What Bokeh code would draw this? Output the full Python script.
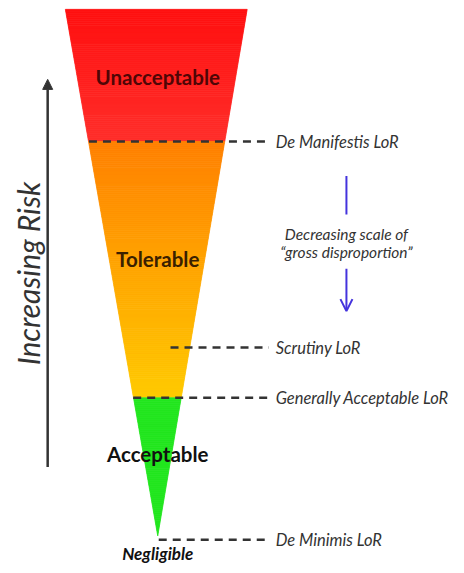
import numpy as np
from bokeh.plotting import figure
from bokeh.models import Range1d, Arrow, NormalHead, OpenHead
from bokeh.core.properties import value
from bokeh.embed import file_html
from bokeh.resources import INLINE

# ---- data ----
zone_names = ["Unacceptable", "Tolerable", "Acceptable", "Negligible"]
zone_label_y = [78, 262, 460, 561]
lor_names = ["De Manifestis LoR", "Scrutiny LoR", "Generally Acceptable LoR", "De Minimis LoR"]
lor_y = [143, 352, 403, 547]
lor_start_x = [90, 173, 135, 161]
note_lines = ["Decreasing scale of", "\u201cgross disproportion\u201d"]
note_y = [237, 255]

# ---- geometry / style ----
TOP_Y, APEX_Y = 9, 543
TOP_L, TOP_R, APEX_X = 66, 251, 160

def edges(y):
    t = (y - TOP_Y) / (APEX_Y - TOP_Y)
    return TOP_L + (APEX_X - TOP_L) * t, TOP_R + (APEX_X - TOP_R) * t

def hex2rgb(h):
    h = h.lstrip("#")
    return np.array([int(h[i:i + 2], 16) for i in (0, 2, 4)], dtype=float)

def lerp(c1, c2, t):
    c = hex2rgb(c1) * (1 - t) + hex2rgb(c2) * t
    return "#%02x%02x%02x" % tuple(int(round(v)) for v in c)

p = figure(width=456, height=565, x_range=Range1d(0, 464), y_range=Range1d(573, 0),
           output_backend="svg", toolbar_location=None, min_border=0)
p.axis.visible = False
p.grid.visible = False
p.outline_line_color = None
p.background_fill_color = "white"

xs, ys, cols = [], [], []
step = 2
y = TOP_Y
while y < APEX_Y:
    y2 = min(y + step, APEX_Y)
    l1, r1 = edges(y)
    l2, r2 = edges(y2)
    ym = (y + y2) / 2
    if ym < lor_y[0]:
        c = lerp("#ff1010", "#ff2e2a", (ym - TOP_Y) / (lor_y[0] - TOP_Y))
    elif ym < lor_y[2]:
        c = lerp("#ff8000", "#ffca00", (ym - lor_y[0]) / (lor_y[2] - lor_y[0]))
    else:
        c = "#22e61e"
    xs.append([l1, r1, r2, l2])
    ys.append([y, y, y2, y2])
    cols.append(c)
    y = y2
p.patches(xs, ys, fill_color=cols, line_color=cols, line_width=0.8)

# dashed level lines
dash_end = 273
p.segment(x0=lor_start_x, y0=lor_y, x1=[dash_end] * 4, y1=lor_y,
          line_color="#333333", line_width=2.5, line_dash="8 6")
p.text(x=[280] * 4, y=lor_y, text=lor_names, text_font=value("Lato"),
       text_font_style="italic", text_font_size="16.5px", text_color="#333333",
       text_baseline="middle", text_align="left")

# zone labels
zone_colors = ["#4f0606", "#3a2000", "#111111", "#111111"]
zone_sizes = ["20.5px", "20.5px", "20.5px", "17px"]
zone_styles = ["bold", "bold", "bold", "bold italic"]
for i in range(4):
    p.text(x=[160], y=[zone_label_y[i]], text=[zone_names[i]], text_font=value("Lato"),
           text_font_style=zone_styles[i], text_font_size=zone_sizes[i],
           text_color=zone_colors[i], text_align="center", text_baseline="middle")

# increasing risk arrow
p.add_layout(Arrow(end=NormalHead(size=10, fill_color="#333333", line_color="#333333"),
                   x_start=48, y_start=473, x_end=48, y_end=80,
                   line_color="#333333", line_width=2.5))
p.text(x=[28], y=[277], text=["Increasing Risk"], angle=np.pi / 2, text_font=value("Lato"),
       text_font_style="italic", text_font_size="30px", text_color="#333333",
       text_align="center", text_baseline="middle")

# gross disproportion note
p.segment(x0=[352], y0=[178], x1=[352], y1=[217], line_color="#4433dd", line_width=2)
p.add_layout(Arrow(end=OpenHead(size=12, line_color="#4433dd", line_width=2),
                   x_start=352, y_start=272, x_end=352, y_end=315,
                   line_color="#4433dd", line_width=2))
p.text(x=[352, 352], y=note_y, text=note_lines, text_font=value("Lato"),
       text_font_style="italic", text_font_size="15.5px", text_color="#333333",
       text_align="center", text_baseline="middle")

open("out.html", "w").write(file_html(p, INLINE))
